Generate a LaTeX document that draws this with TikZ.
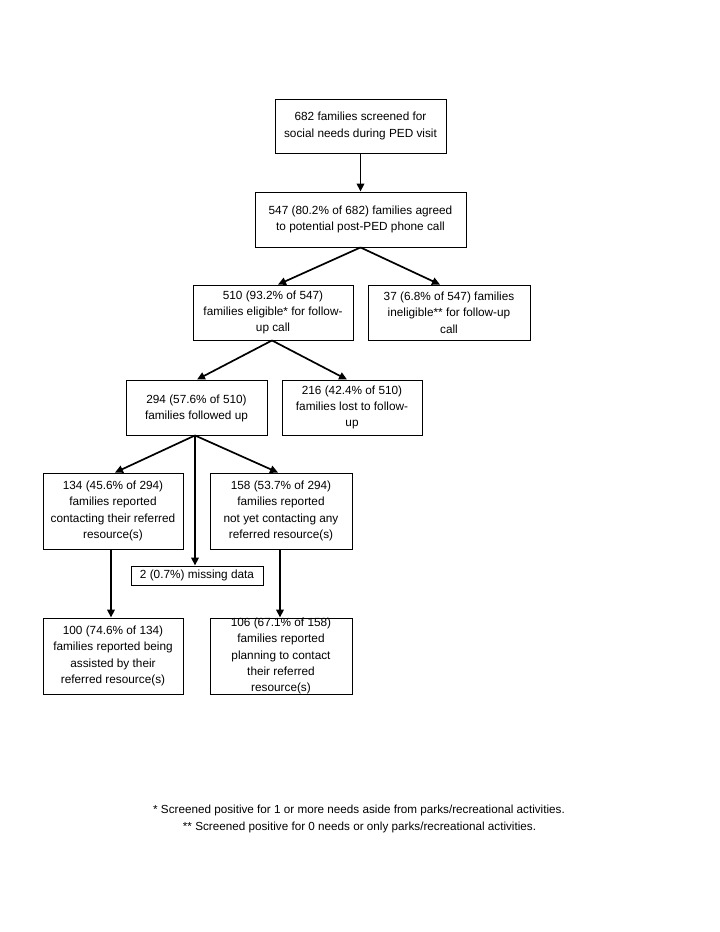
\documentclass[tikz,border=0pt]{standalone}
\usepackage{fontspec}
\setmainfont{Liberation Sans}
\usetikzlibrary{arrows.meta}
\begin{document}
\begin{tikzpicture}[x=1pt,y=-1pt,
  box/.style={draw=black,line width=0.9pt,inner sep=0pt,minimum width=#1},
  txt/.style={align=center,inner sep=0pt,font=\fontsize{11.8}{16.3}\selectfont},
  arr/.style={line width=1.7pt,-{Triangle[length=8pt,width=7.5pt]},shorten >=0pt},
  foot/.style={inner sep=0pt,font=\fontsize{11.7}{14}\selectfont}]
\useasboundingbox[fill=white] (0,0) rectangle (720,932);
% boxes
\node[box=171,minimum height=54] (b1) at (360.5,126) {};
\node[box=211,minimum height=55] (b2) at (360.5,219.5) {};
\node[box=160,minimum height=55] (b3) at (273,312.5) {};
\node[box=162,minimum height=55] (b4) at (449,312.5) {};
\node[box=141,minimum height=55] (b5) at (196.5,407.5) {};
\node[box=140,minimum height=55] (b6) at (352,407.5) {};
\node[box=140,minimum height=76] (b7) at (113,511) {};
\node[box=142,minimum height=76] (b8) at (281,511) {};
\node[box=132,minimum height=19] (bm) at (197,575.5) {};
\node[box=140,minimum height=76] (b9) at (113,656) {};
\node[box=142,minimum height=76] (b10) at (281,656) {};
% texts
\node[txt] (t1) at (b1) {682 families screened for\\social needs during PED visit};
\node[txt] (t2) at (b2) {547 (80.2\% of 682) families agreed\\to potential post-PED phone call};
\node[txt] (t3) at (b3) {510 (93.2\% of 547)\\families eligible* for follow-\\up call};
\node[txt] (t4) at (b4) {37 (6.8\% of 547) families\\ineligible** for follow-up\\call};
\node[txt] (t5) at ([yshift=-1]b5) {294 (57.6\% of 510)\\families followed up};
\node[txt] (t6) at (b6) {216 (42.4\% of 510)\\families lost to follow-\\up};
\node[txt] (t7) at (b7) {134 (45.6\% of 294)\\families reported\\contacting their referred\\resource(s)};
\node[txt] (t8) at (b8) {158 (53.7\% of 294)\\families reported\\not yet contacting any\\referred resource(s)};
\node[txt] (tm) at (bm) {2 (0.7\%) missing data};
\node[txt] (t9) at (b9) {100 (74.6\% of 134)\\families reported being\\assisted by their\\referred resource(s)};
\node[txt] (t10) at (b10) {106 (67.1\% of 158)\\families reported\\planning to contact\\their referred\\resource(s)};
% connectors
\draw[arr] (b1.south) -- (b2.north);
\draw[arr] (b2.south) -- ([xshift=5pt]b3.north);
\draw[arr] (b2.south) -- ([xshift=-9pt]b4.north);
\draw[arr] ([xshift=-1pt]b3.south) -- ([xshift=0.5pt]b5.north);
\draw[arr] ([xshift=-1pt]b3.south) -- ([xshift=-5pt]b6.north);
\draw[arr] ([xshift=-1.5pt]b5.south) -- ([xshift=2pt]b7.north);
\draw[arr] ([xshift=-1.5pt]b5.south) -- ([xshift=-3pt]b8.north);
\draw[arr] ([xshift=-1.5pt]b5.south) -- ([xshift=-2pt]bm.north);
\draw[arr] ([xshift=-2pt]b7.south) -- ([xshift=-2pt]b9.north);
\draw[arr] ([xshift=-1pt]b8.south) -- ([xshift=-1pt]b10.north);
% footnotes
\node[foot] (f1) at (359,810) {* Screened positive for 1 or more needs aside from parks/recreational activities.};
\node[foot] (f2) at (359.5,827) {** Screened positive for 0 needs or only parks/recreational activities.};
\end{tikzpicture}
\end{document}
